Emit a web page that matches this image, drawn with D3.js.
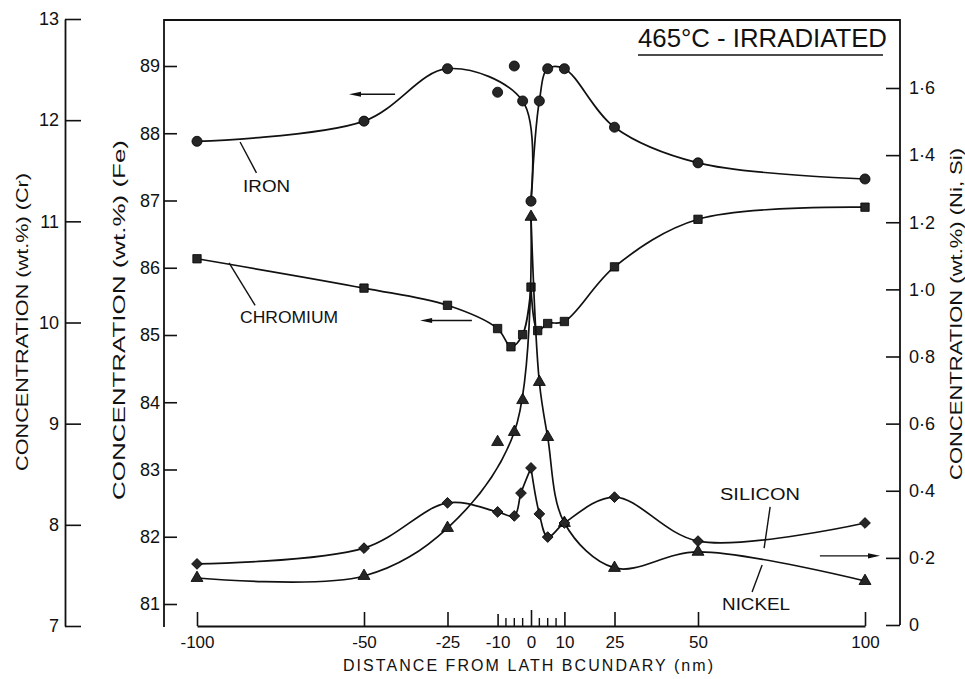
<!DOCTYPE html>
<html>
<head>
<meta charset="utf-8">
<script src="https://cdn.jsdelivr.net/npm/d3@7"></script>
<style>
  body { margin: 0; background: #fff; }
  svg { display: block; }
  text { font-family: "Liberation Sans", Arial, sans-serif; fill: #111; }
</style>
</head>
<body>
<svg id="chart" width="965" height="679"></svg>
<script>
// Distance from lath boundary (nm) and measured concentrations (wt.%)
const ironDistance = [-100, -50, -25, -10, -5, -2.5, 0, 2.5, 5, 10, 25, 50, 100];
const iron         = [87.88, 88.18, 88.96, 88.61, 89.0, 88.48, 86.99, 88.48, 88.96, 88.96, 88.09, 87.56, 87.32];
const ironOffCurve = [-10, -5];

const chromiumDistance = [-100, -50, -25, -10, -6, -2.5, 0, 2, 5, 10, 25, 50, 100];
const chromium         = [10.63, 10.34, 10.17, 9.94, 9.76, 9.88, 10.35, 9.92, 9.99, 10.01, 10.55, 11.02, 11.14];
const chromiumOffCurve = [];

const nickelDistance = [-100, -50, -25, -10, -5, -2.5, 0, 2.5, 5, 10, 25, 50, 100];
const nickel         = [0.14, 0.146, 0.289, 0.545, 0.575, 0.67, 1.216, 0.724, 0.56, 0.304, 0.17, 0.218, 0.131];
const nickelOffCurve = [-10, -2.5];

const siliconDistance = [-100, -50, -25, -10, -5, -3, 0, 2.5, 5, 10, 25, 50, 100];
const silicon         = [0.182, 0.229, 0.364, 0.337, 0.325, 0.393, 0.468, 0.331, 0.262, 0.304, 0.381, 0.25, 0.304];
const siliconOffCurve = [];

// Axis ticks
const distanceTicks = [-100, -50, -25, -10, 0, 10, 25, 50, 100];
const distanceMinorTicks = [-7.5, -5, -2.5, 2.5, 5, 7.5];
const crTicks = [7, 8, 9, 10, 11, 12, 13];
const feTicks = [81, 82, 83, 84, 85, 86, 87, 88, 89];
const niSiTicks = [0, 0.2, 0.4, 0.6, 0.8, 1.0, 1.2, 1.4, 1.6];

const svg = d3.select("#chart");
const ink = "#111";

// Scales
const x = d3.scaleLinear().domain([-100, 100]).range([197, 865]);
const yCr = d3.scaleLinear().domain([7, 13]).range([626, 19]);
const yFe = d3.scaleLinear().domain([81, 89]).range([604, 66]);
const yNiSi = d3.scaleLinear().domain([0, 1.6]).range([625, 88]);

const frameTop = 20, frameLeft = 164, frameRight = 900, frameBottom = 626;

// Frame: top edge, Fe axis line and Ni/Si axis line
svg.append("path")
  .attr("d", `M${frameLeft},${frameBottom + 1}V${frameTop}H${frameRight}V${yNiSi(0)}`)
  .attr("fill", "none").attr("stroke", ink).attr("stroke-width", 1.8);

function styleAxis(g, fontSize) {
  g.selectAll(".domain").attr("stroke", ink).attr("stroke-width", 1.8);
  g.selectAll(".tick line").attr("stroke", ink).attr("stroke-width", 1.6);
  g.selectAll(".tick text").attr("font-size", fontSize).attr("fill", ink)
    .style("font-family", '"Liberation Sans", Arial, sans-serif');
}

// Cr axis (outer left)
const crAxis = svg.append("g").attr("transform", "translate(65,0)")
  .call(d3.axisLeft(yCr).tickValues(crTicks).tickFormat(d3.format("d"))
    .tickSizeInner(-16).tickSizeOuter(0).tickPadding(6));
styleAxis(crAxis, 18);

// Fe axis (inner left)
const feAxis = svg.append("g").attr("transform", `translate(${frameLeft},0)`)
  .call(d3.axisLeft(yFe).tickValues(feTicks).tickFormat(d3.format("d"))
    .tickSizeInner(-13).tickSizeOuter(0).tickPadding(4));
feAxis.select(".domain").remove();
styleAxis(feAxis, 18);

// Ni, Si axis (right)
const niSiFormat = d => d === 0 ? "0" : d3.format(".1f")(d).replace(".", "\u00B7");
const niSiAxis = svg.append("g").attr("transform", `translate(${frameRight},0)`)
  .call(d3.axisRight(yNiSi).tickValues(niSiTicks).tickFormat(niSiFormat)
    .tickSizeInner(-14).tickSizeOuter(0).tickPadding(9));
niSiAxis.select(".domain").remove();
styleAxis(niSiAxis, 18);

// Distance axis
const xAxis = svg.append("g").attr("transform", `translate(0,${frameBottom})`)
  .call(d3.axisBottom(x).tickValues(distanceTicks).tickFormat(d => d3.format("d")(d).replace("\u2212", "-"))
    .tickSizeInner(-14).tickSizeOuter(0).tickPadding(10));
styleAxis(xAxis, 17);
xAxis.selectAll(".tick line").attr("y2", d => d === 0 ? -16 : (d === -10 ? -12 : -14));
xAxis.selectAll(".minor").data(distanceMinorTicks).enter().append("line")
  .attr("class", "minor")
  .attr("x1", d => x(d)).attr("x2", d => x(d))
  .attr("y1", 0).attr("y2", -8)
  .attr("stroke", ink).attr("stroke-width", 1.4);

// Axis titles
function vTitle(cx, cy, len, label) {
  svg.append("text")
    .attr("transform", `translate(${cx},${cy}) rotate(-90)`)
    .attr("text-anchor", "middle").attr("dominant-baseline", "central")
    .attr("font-size", 16)
    .attr("textLength", len).attr("lengthAdjust", "spacingAndGlyphs")
    .text(label);
}
vTitle(22, 322, 298, "CONCENTRATION (wt.%) (Cr)");
vTitle(119, 320, 360, "CONCENTRATION (wt.%) (Fe)");
vTitle(956, 314, 332, "CONCENTRATION (wt.%) (Ni, Si)");

svg.append("text")
  .attr("x", 343).attr("y", 671)
  .attr("font-size", 16)
  .attr("textLength", 370).attr("lengthAdjust", "spacing")
  .text("DISTANCE FROM LATH BCUNDARY (nm)");

// Title
svg.append("text")
  .attr("x", 638).attr("y", 47)
  .attr("font-size", 26)
  .attr("textLength", 249).attr("lengthAdjust", "spacingAndGlyphs")
  .text("465\u00B0C - IRRADIATED");
svg.append("line")
  .attr("x1", 638).attr("x2", 883).attr("y1", 55).attr("y2", 55)
  .attr("stroke", ink).attr("stroke-width", 1.6);

// Profiles: smooth curves drawn either side of the boundary, meeting in a cusp at 0
function drawSeries(xs, vs, off, yScale, symbolType, symbolSize, angle) {
  const pts = xs.map((d, i) => [d, vs[i]]);
  const onCurve = pts.filter(p => !off.includes(p[0]));
  const line = d3.line()
    .x(p => x(p[0])).y(p => yScale(p[1]))
    .curve(d3.curveCatmullRom.alpha(0.5));
  [onCurve.filter(p => p[0] <= 0), onCurve.filter(p => p[0] >= 0)].forEach(seg => {
    svg.append("path").attr("d", line(seg))
      .attr("fill", "none").attr("stroke", ink).attr("stroke-width", 1.7);
  });
  const sym = d3.symbol().type(symbolType).size(symbolSize);
  svg.append("g").selectAll("path").data(pts).enter().append("path")
    .attr("transform", p => `translate(${x(p[0])},${yScale(p[1])}) rotate(${angle || 0})`)
    .attr("d", sym)
    .attr("fill", "#262626").attr("stroke", "#000").attr("stroke-width", 0.8);
}

drawSeries(ironDistance, iron, ironOffCurve, yFe, d3.symbolCircle, 80);
drawSeries(chromiumDistance, chromium, chromiumOffCurve, yCr, d3.symbolSquare, 70);
drawSeries(nickelDistance, nickel, nickelOffCurve, yNiSi, d3.symbolTriangle, 62);
drawSeries(siliconDistance, silicon, siliconOffCurve, yNiSi, d3.symbolSquare, 58, 45);

// Series labels with leader lines, placed in data units
function leader(x1, y1, x2, y2, yScale) {
  svg.append("line")
    .attr("x1", x(x1)).attr("y1", yScale(y1))
    .attr("x2", x(x2)).attr("y2", yScale(y2))
    .attr("stroke", ink).attr("stroke-width", 1.4);
}
function label(dx, v, yScale, txt, len) {
  svg.append("text").attr("x", x(dx)).attr("y", yScale(v))
    .attr("font-size", 16)
    .attr("textLength", len).attr("lengthAdjust", "spacingAndGlyphs")
    .text(txt);
}
label(-86.2, 87.13, yFe, "IRON", 47);
leader(-87.1, 87.87, -82.2, 87.41, yFe);
label(-87.1, 9.996, yCr, "CHROMIUM", 98);
leader(-90.4, 10.59, -82.6, 10.17, yCr);
label(56.6, 0.372, yNiSi, "SILICON", 80);
leader(71.6, 0.352, 69.8, 0.229, yNiSi);
label(57.2, 0.045, yNiSi, "NICKEL", 68);
leader(66.2, 0.098, 69.2, 0.179, yNiSi);

// Arrows indicating which axis each profile is read against
function arrow(xFrom, xTo, v, yScale) {
  const x1 = x(xFrom), x2 = x(xTo), yy = yScale(v);
  const dir = Math.sign(x2 - x1);
  svg.append("line").attr("x1", x1).attr("x2", x2 - dir * 6).attr("y1", yy).attr("y2", yy)
    .attr("stroke", ink).attr("stroke-width", 1.4);
  svg.append("path")
    .attr("d", `M${x2},${yy}L${x2 - dir * 12},${yy - 2.6}L${x2 - dir * 12},${yy + 2.6}Z`)
    .attr("fill", ink);
}
arrow(-40.7, -54.5, 88.58, yFe);
arrow(-17.7, -33.2, 10.02, yCr);
arrow(86.5, 104.5, 0.206, yNiSi);
</script>
</body>
</html>
